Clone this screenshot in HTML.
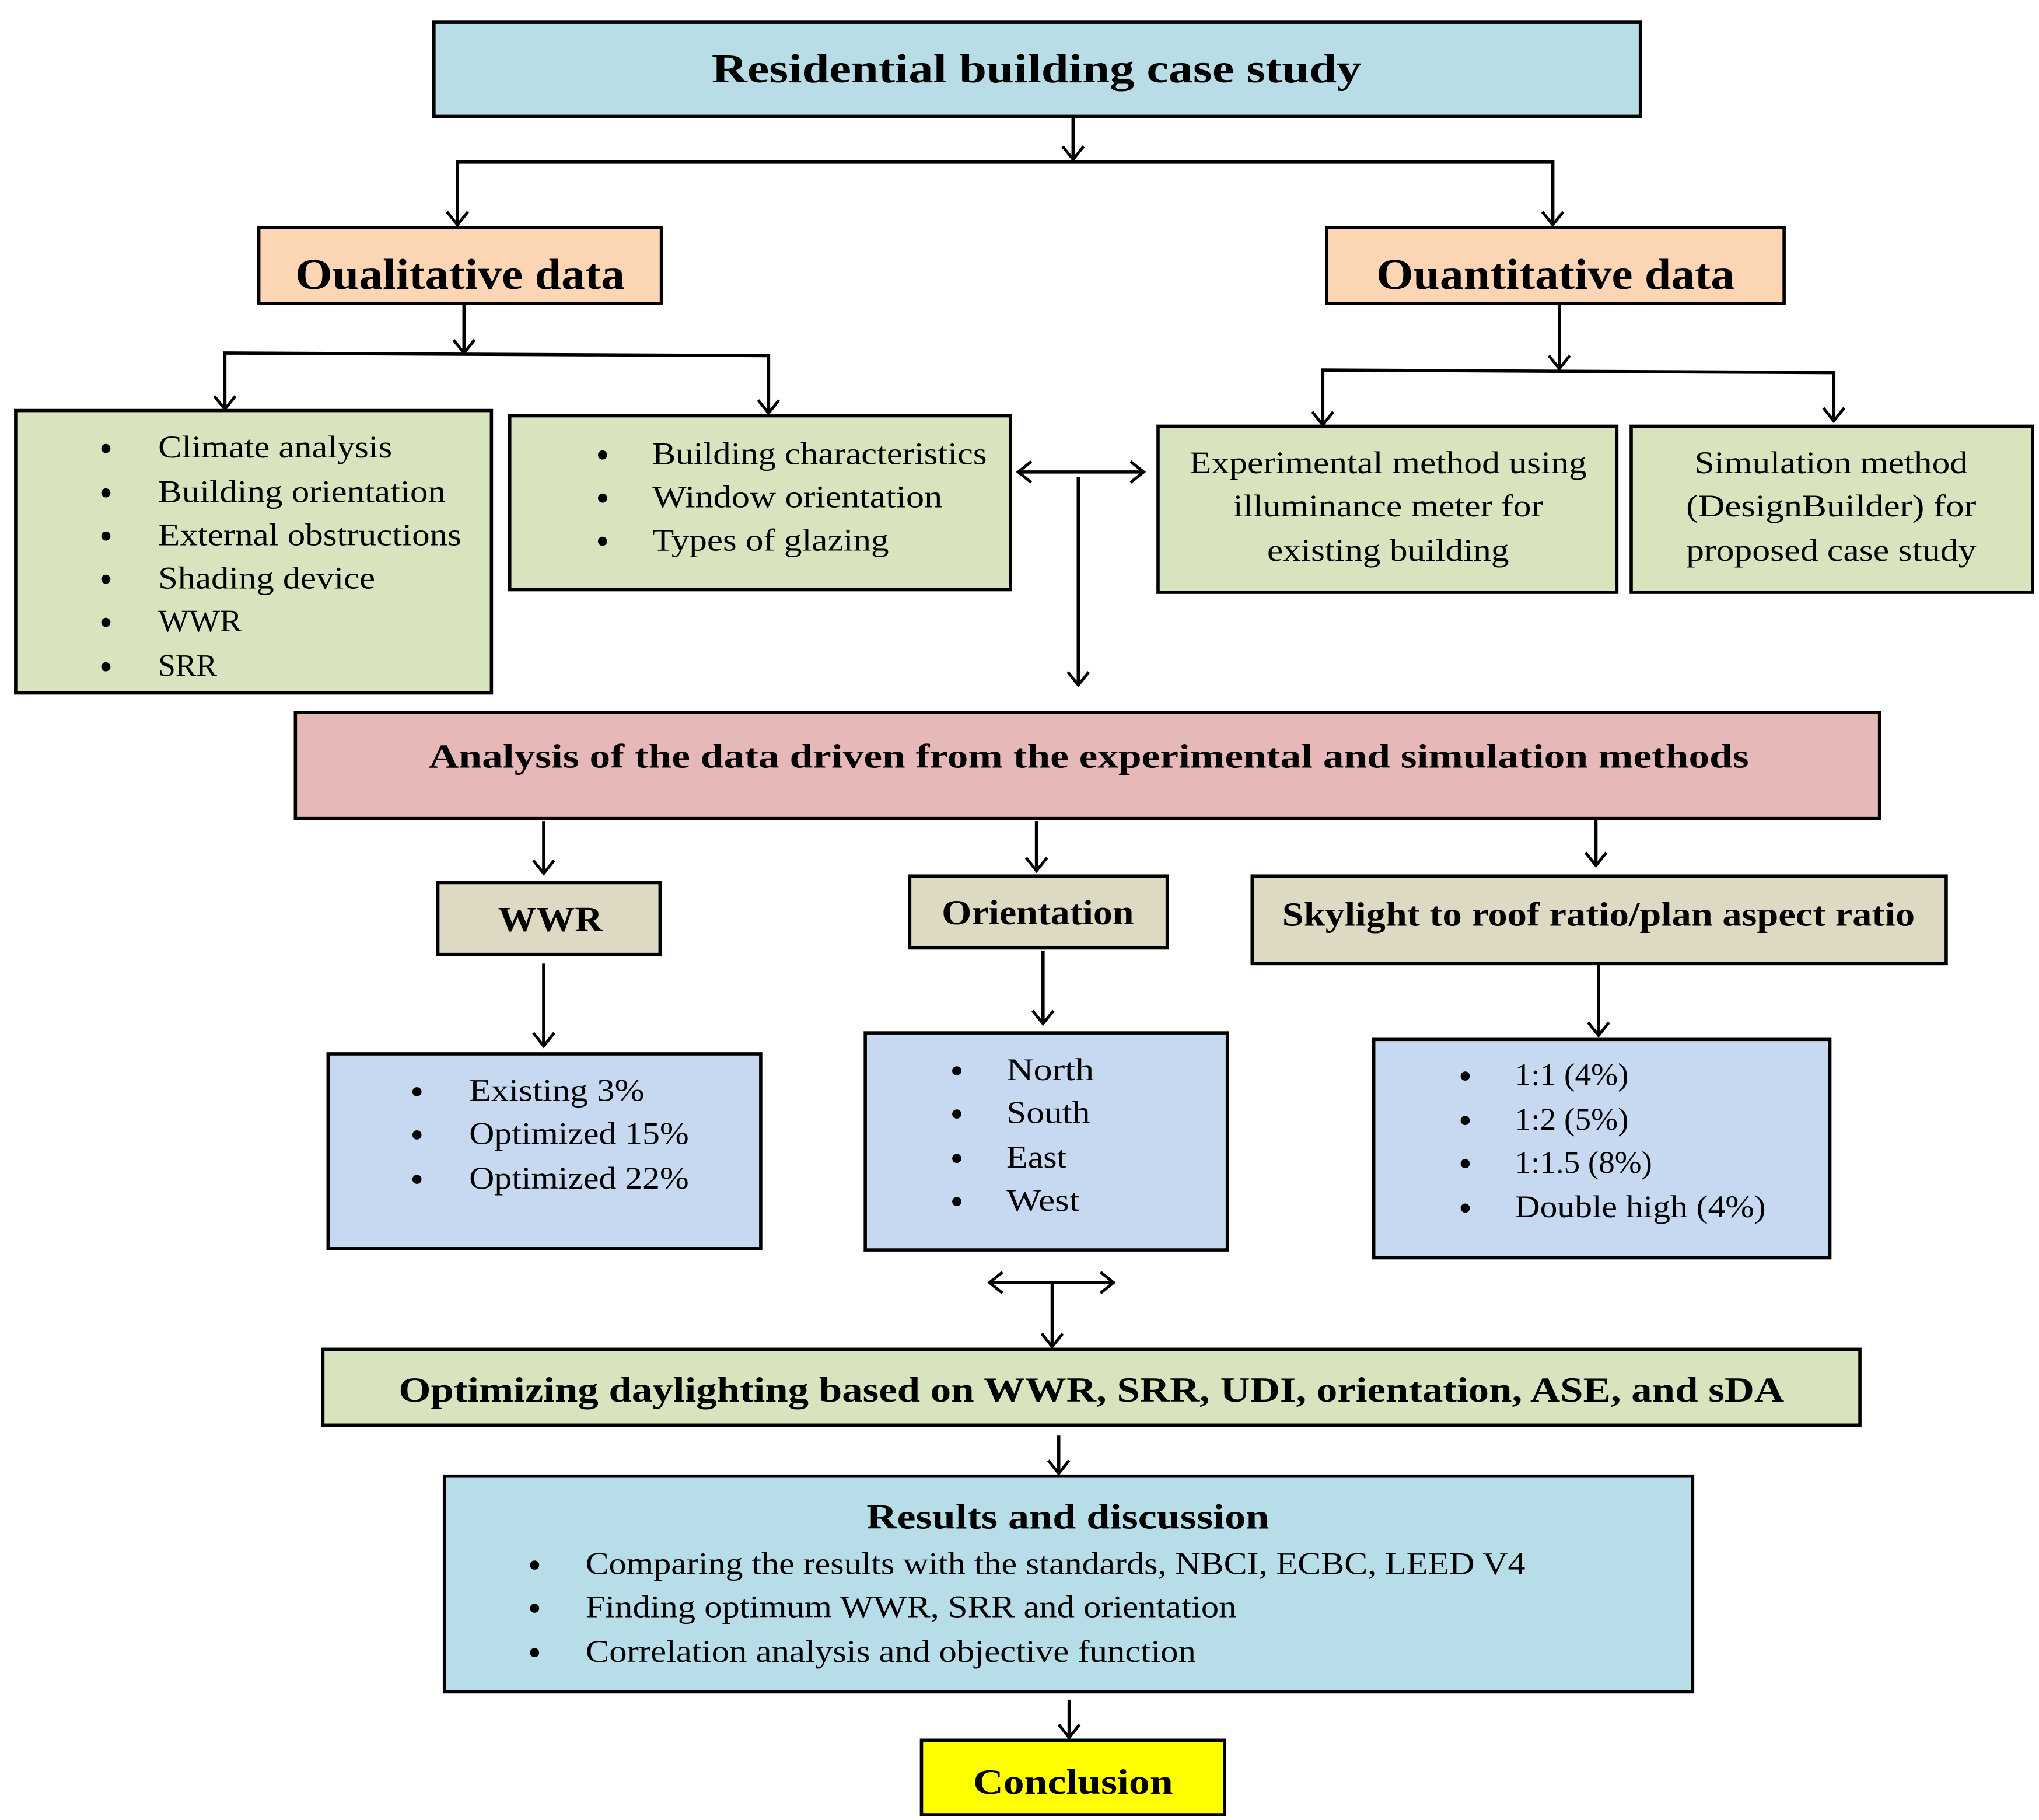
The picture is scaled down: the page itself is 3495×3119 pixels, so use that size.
<!DOCTYPE html>
<html><head><meta charset="utf-8"><style>
html,body{margin:0;padding:0;background:#fff;}
svg{display:block;}
text{font-family:"Liberation Serif",serif;fill:#000;}
</style></head><body>
<svg width="3495" height="3119" viewBox="0 0 1560 1392" preserveAspectRatio="none" xmlns="http://www.w3.org/2000/svg">
<defs>
<marker id="a" viewBox="0 0 20 20" refX="17" refY="10" markerWidth="20" markerHeight="20" markerUnits="userSpaceOnUse" orient="auto-start-reverse">
<polyline points="7,2 17,10 7,18" fill="none" stroke="#000" stroke-width="2.2"/>
</marker>
</defs>
<g stroke="#000" stroke-width="2.5">
<rect x="332" y="17" width="923" height="72" fill="#b8dde6"/>
<rect x="198" y="174" width="308" height="58" fill="#fcd5b5"/>
<rect x="1015" y="174" width="350" height="58" fill="#fcd5b5"/>
<rect x="12" y="314" width="364" height="216" fill="#d7e4bd"/>
<rect x="390" y="318" width="383" height="133" fill="#d7e4bd"/>
<rect x="886" y="326" width="351" height="127" fill="#d7e4bd"/>
<rect x="1248" y="326" width="307" height="127" fill="#d7e4bd"/>
<rect x="226" y="545" width="1212" height="81" fill="#e6b9b8"/>
<rect x="335" y="675" width="170" height="55" fill="#ddd9c3"/>
<rect x="696" y="670" width="197" height="55" fill="#ddd9c3"/>
<rect x="958" y="670" width="531" height="67" fill="#ddd9c3"/>
<rect x="251" y="806" width="331" height="149" fill="#c6d9f1"/>
<rect x="662" y="790" width="277" height="166" fill="#c6d9f1"/>
<rect x="1051" y="795" width="349" height="167" fill="#c6d9f1"/>
<rect x="247" y="1032" width="1176" height="58" fill="#d7e4bd"/>
<rect x="340" y="1129" width="955" height="165" fill="#b7dde8"/>
<rect x="705" y="1331" width="232" height="57" fill="#ffff00"/>
</g>
<g stroke="#000" stroke-width="2.5" fill="none">
<line x1="821" y1="89" x2="821" y2="122" marker-end="url(#a)"/>
<polyline points="350,172 350,124 1188,124 1188,172" marker-start="url(#a)" marker-end="url(#a)"/>
<line x1="355" y1="232" x2="355" y2="270" marker-end="url(#a)"/>
<polyline points="172,313 172,270 588,272 588,316" marker-start="url(#a)" marker-end="url(#a)"/>
<line x1="779" y1="361" x2="875" y2="361" marker-start="url(#a)" marker-end="url(#a)"/>
<line x1="825" y1="365" x2="825" y2="524" marker-end="url(#a)"/>
<line x1="1193" y1="232" x2="1193" y2="282" marker-end="url(#a)"/>
<polyline points="1012,325 1012,283 1403,285 1403,322" marker-start="url(#a)" marker-end="url(#a)"/>
<line x1="416" y1="628" x2="416" y2="668" marker-end="url(#a)"/>
<line x1="793" y1="628" x2="793" y2="666" marker-end="url(#a)"/>
<line x1="1221" y1="626" x2="1221" y2="662" marker-end="url(#a)"/>
<line x1="416" y1="737" x2="416" y2="800" marker-end="url(#a)"/>
<line x1="798" y1="727" x2="798" y2="783" marker-end="url(#a)"/>
<line x1="1223" y1="737" x2="1223" y2="792" marker-end="url(#a)"/>
<line x1="757" y1="981" x2="852" y2="981" marker-start="url(#a)" marker-end="url(#a)"/>
<line x1="805" y1="981" x2="805" y2="1030" marker-end="url(#a)"/>
<line x1="810" y1="1098" x2="810" y2="1127" marker-end="url(#a)"/>
<line x1="818" y1="1300" x2="818" y2="1329" marker-end="url(#a)"/>
</g>
<g text-anchor="middle" font-weight="bold">
<text x="793" y="63" font-size="31" textLength="497" lengthAdjust="spacingAndGlyphs">Residential building case study</text>
<text x="352" y="221" font-size="33" textLength="252" lengthAdjust="spacingAndGlyphs">Oualitative data</text>
<text x="1190" y="221" font-size="33" textLength="274" lengthAdjust="spacingAndGlyphs">Ouantitative data</text>
<text x="833" y="587" font-size="26" textLength="1010" lengthAdjust="spacingAndGlyphs">Analysis of the data driven from the experimental and simulation methods</text>
<text x="421" y="712" font-size="27" textLength="80" lengthAdjust="spacingAndGlyphs">WWR</text>
<text x="794" y="707" font-size="27" textLength="147" lengthAdjust="spacingAndGlyphs">Orientation</text>
<text x="1223" y="708" font-size="26" textLength="484" lengthAdjust="spacingAndGlyphs">Skylight to roof ratio/plan aspect ratio</text>
<text x="835" y="1072" font-size="27" textLength="1060" lengthAdjust="spacingAndGlyphs">Optimizing daylighting based on WWR, SRR, UDI, orientation, ASE, and sDA</text>
<text x="817" y="1169" font-size="27" textLength="308" lengthAdjust="spacingAndGlyphs">Results and discussion</text>
<text x="821" y="1372" font-size="27" textLength="153" lengthAdjust="spacingAndGlyphs">Conclusion</text>
</g>
<g text-anchor="middle" font-size="24">
<text x="1062" y="362" textLength="304" lengthAdjust="spacingAndGlyphs">Experimental method using</text>
<text x="1062" y="395" textLength="237" lengthAdjust="spacingAndGlyphs">illuminance meter for</text>
<text x="1062" y="429" textLength="185" lengthAdjust="spacingAndGlyphs">existing building</text>
<text x="1401" y="362" textLength="209" lengthAdjust="spacingAndGlyphs">Simulation method</text>
<text x="1401" y="395" textLength="222" lengthAdjust="spacingAndGlyphs">(DesignBuilder) for</text>
<text x="1401" y="429" textLength="222" lengthAdjust="spacingAndGlyphs">proposed case study</text>
</g>
<g font-size="24" lengthAdjust="spacingAndGlyphs">
<text x="121" y="350" textLength="179" lengthAdjust="spacingAndGlyphs">Climate analysis</text>
<text x="121" y="384" textLength="220" lengthAdjust="spacingAndGlyphs">Building orientation</text>
<text x="121" y="417" textLength="232" lengthAdjust="spacingAndGlyphs">External obstructions</text>
<text x="121" y="450" textLength="166" lengthAdjust="spacingAndGlyphs">Shading device</text>
<text x="121" y="483" textLength="64" lengthAdjust="spacingAndGlyphs">WWR</text>
<text x="121" y="517" textLength="45" lengthAdjust="spacingAndGlyphs">SRR</text>
<text x="499" y="355" textLength="256" lengthAdjust="spacingAndGlyphs">Building characteristics</text>
<text x="499" y="388" textLength="222" lengthAdjust="spacingAndGlyphs">Window orientation</text>
<text x="499" y="421" textLength="181" lengthAdjust="spacingAndGlyphs">Types of glazing</text>
<text x="359" y="842" textLength="134" lengthAdjust="spacingAndGlyphs">Existing  3%</text>
<text x="359" y="875" textLength="168" lengthAdjust="spacingAndGlyphs">Optimized 15%</text>
<text x="359" y="909" textLength="168" lengthAdjust="spacingAndGlyphs">Optimized 22%</text>
<text x="770" y="826" textLength="67" lengthAdjust="spacingAndGlyphs">North</text>
<text x="770" y="859" textLength="64" lengthAdjust="spacingAndGlyphs">South</text>
<text x="770" y="893" textLength="46" lengthAdjust="spacingAndGlyphs">East</text>
<text x="770" y="926" textLength="56" lengthAdjust="spacingAndGlyphs">West</text>
<text x="1159" y="830" textLength="87" lengthAdjust="spacingAndGlyphs">1:1 (4%)</text>
<text x="1159" y="864" textLength="87" lengthAdjust="spacingAndGlyphs">1:2 (5%)</text>
<text x="1159" y="897" textLength="105" lengthAdjust="spacingAndGlyphs">1:1.5 (8%)</text>
<text x="1159" y="931" textLength="192" lengthAdjust="spacingAndGlyphs">Double high (4%)</text>
<text x="448" y="1204" textLength="719" lengthAdjust="spacingAndGlyphs">Comparing the results with the standards, NBCI, ECBC, LEED V4</text>
<text x="448" y="1237" textLength="498" lengthAdjust="spacingAndGlyphs">Finding optimum WWR, SRR and orientation</text>
<text x="448" y="1271" textLength="467" lengthAdjust="spacingAndGlyphs">Correlation analysis and objective function</text>
</g>
<g fill="#000">
<circle cx="81" cy="343" r="3.5"/><circle cx="81" cy="377" r="3.5"/><circle cx="81" cy="410" r="3.5"/>
<circle cx="81" cy="443" r="3.5"/><circle cx="81" cy="476" r="3.5"/><circle cx="81" cy="510" r="3.5"/>
<circle cx="461" cy="348" r="3.5"/><circle cx="461" cy="381" r="3.5"/><circle cx="461" cy="414" r="3.5"/>
<circle cx="319" cy="835" r="3.5"/><circle cx="319" cy="868" r="3.5"/><circle cx="319" cy="902" r="3.5"/>
<circle cx="732" cy="819" r="3.5"/><circle cx="732" cy="852" r="3.5"/><circle cx="732" cy="886" r="3.5"/><circle cx="732" cy="919" r="3.5"/>
<circle cx="1121" cy="823" r="3.5"/><circle cx="1121" cy="857" r="3.5"/><circle cx="1121" cy="890" r="3.5"/><circle cx="1121" cy="924" r="3.5"/>
<circle cx="409" cy="1197" r="3.5"/><circle cx="409" cy="1230" r="3.5"/><circle cx="409" cy="1264" r="3.5"/>
</g>
</svg>
</body></html>
